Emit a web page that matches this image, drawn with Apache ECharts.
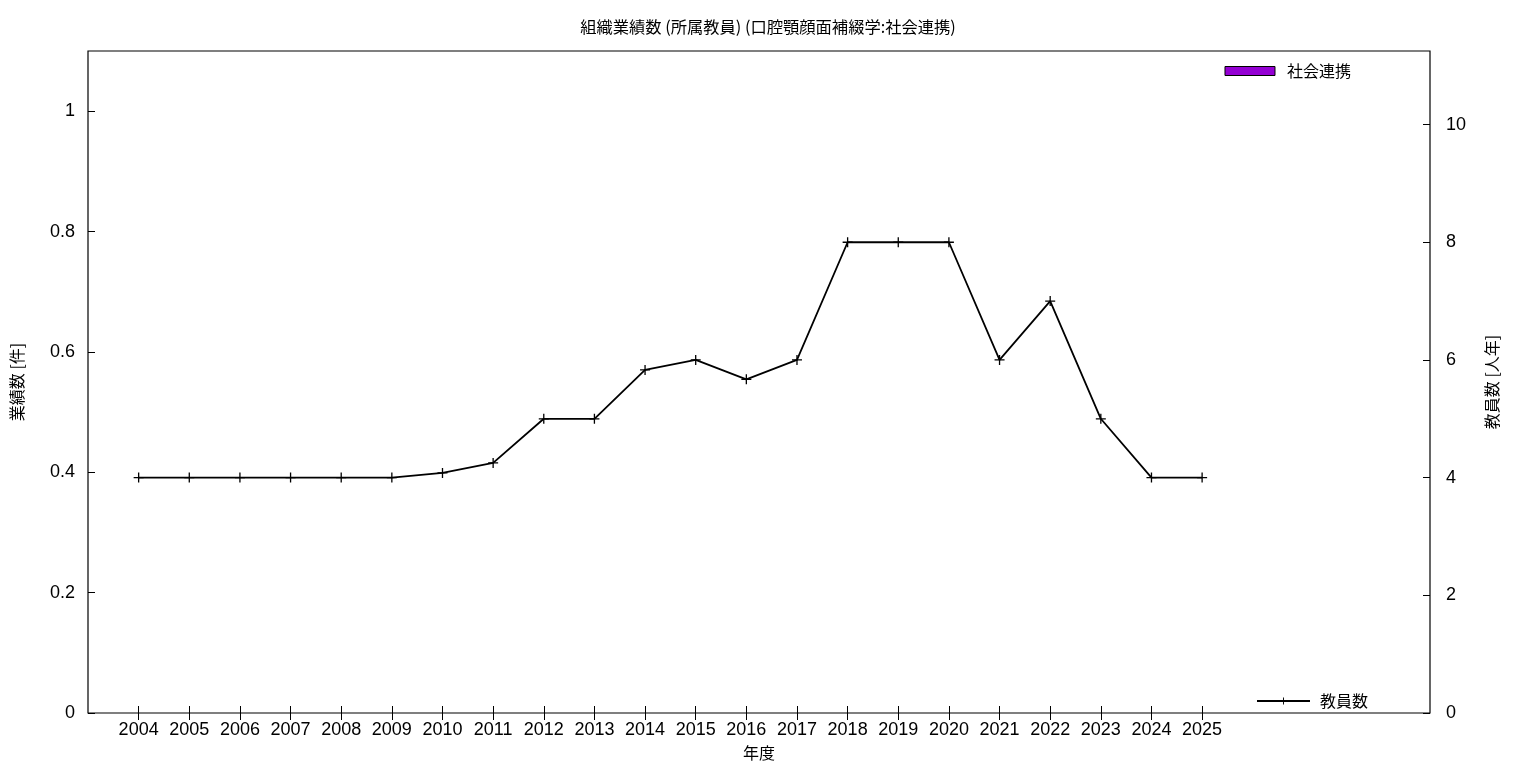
<!DOCTYPE html>
<html><head><meta charset="utf-8">
<script src="https://cdn.jsdelivr.net/npm/echarts@6/dist/echarts.min.js"></script>
<style>html,body{margin:0;padding:0;background:#fff}#c{width:1536px;height:768px}</style>
</head><body><div id="c"></div>
<script>
const years = [2004,2005,2006,2007,2008,2009,2010,2011,2012,2013,2014,2015,2016,2017,2018,2019,2020,2021,2022,2023,2024,2025];
const staff = [4,4,4,4,4,4,4.08,4.25,5,5,5.83,6,5.67,6,8,8,8,6,7,5,4,4];
const collab = [0,0,0,0,0,0,0,0,0,0,0,0,0,0,0,0,0,0,0,0,0,0];
const leftTicks = [0,0.2,0.4,0.6,0.8,1];
const rightTicks = [0,2,4,6,8,10];
const FONT = '"Liberation Sans","Noto Sans CJK JP",sans-serif';
const CJK = '"Noto Sans CJK JP",sans-serif';
const plusPath = 'path://M0,4.35 H10 V5.65 H0 Z M4.35,0 H5.65 V10 H4.35 Z';

const chart = echarts.init(document.getElementById('c'), null, {renderer:'canvas'});
chart.setOption({
  animation:false,
  backgroundColor:'#fff',
  title:{text:'組織業績数 (所属教員) (口腔顎顔面補綴学:社会連携)', left:'center', top:14,
    textStyle:{fontFamily:CJK, fontSize:16.3, fontWeight:'normal', color:'#000'}},
  grid:{left:88, right:106, top:51, bottom:55, show:true, borderColor:'#000', borderWidth:1.2},
  legend:[
    {data:[{name:'社会連携', icon:'rect', itemStyle:{color:'#9400d3', borderColor:'#000', borderWidth:1}}],
     right:180, top:58, itemWidth:50, itemHeight:9, itemGap:10,
     textStyle:{fontFamily:CJK, fontSize:16, color:'#000', padding:[0,0,0,7]}},
    {data:['教員数'], right:163, top:688, itemWidth:53, itemHeight:9,
     textStyle:{fontFamily:CJK, fontSize:16, color:'#000', padding:[0,0,0,5]}}
  ],
  xAxis:[
    {type:'value', min:2003, max:2029.5, interval:1, name:'年度', nameLocation:'middle', nameGap:32,
     nameTextStyle:{fontFamily:CJK, fontSize:16, color:'#000'},
     axisLine:{show:false}, splitLine:{show:false},
     axisTick:{inside:true, length:7, lineStyle:{color:'#000', width:1}, customValues:years},
     axisLabel:{customValues:years, margin:8, fontFamily:FONT, fontSize:18, color:'#000', formatter:v=>String(v)}},
    {type:'value', position:'top', min:2003, max:2029.5, interval:1,
     axisLine:{show:false}, splitLine:{show:false},
     axisTick:{inside:true, length:7, lineStyle:{color:'#000', width:1}, customValues:years},
     axisLabel:{show:false}}
  ],
  yAxis:[
    {type:'value', min:0, max:1.1, interval:0.2, name:'業績数 [件]', nameLocation:'middle', nameGap:63, nameRotate:90,
     nameTextStyle:{fontFamily:CJK, fontSize:16, color:'#000'},
     axisLine:{show:false}, splitLine:{show:false},
     axisTick:{inside:true, length:7, lineStyle:{color:'#000', width:1}, customValues:leftTicks},
     axisLabel:{customValues:leftTicks, margin:13, fontFamily:FONT, fontSize:18, color:'#000', formatter:v=>String(Math.round(v*10)/10)}},
    {type:'value', min:0, max:11.25, interval:2, position:'right', name:'教員数 [人年]', nameLocation:'middle', nameGap:54, nameRotate:90,
     nameTextStyle:{fontFamily:CJK, fontSize:16, color:'#000'},
     axisLine:{show:false}, splitLine:{show:false},
     axisTick:{inside:true, length:7, lineStyle:{color:'#000', width:1}, customValues:rightTicks},
     axisLabel:{customValues:rightTicks, margin:16, fontFamily:FONT, fontSize:18, color:'#000', formatter:v=>String(v)}}
  ],
  series:[
    {name:'社会連携', type:'bar', xAxisIndex:0, yAxisIndex:0, barWidth:20,
     itemStyle:{color:'#9400d3', borderWidth:0},
     data: years.map((y,i)=>[y, collab[i]])},
    {name:'教員数', type:'line', xAxisIndex:0, yAxisIndex:1,
     symbol:plusPath, symbolSize:10, showSymbol:true,
     lineStyle:{color:'#000', width:1.8}, itemStyle:{color:'#000'},
     data: years.map((y,i)=>[y, staff[i]])}
  ]
});
</script></body></html>
